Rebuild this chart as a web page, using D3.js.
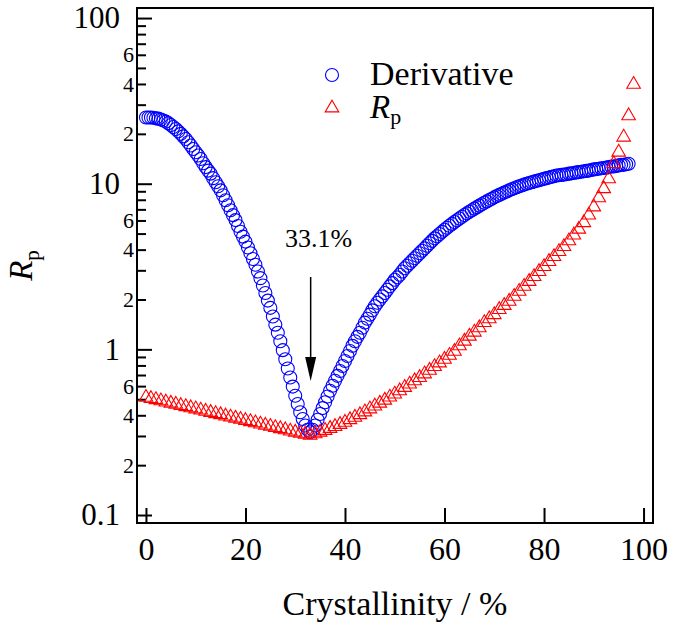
<!DOCTYPE html>
<html><head><meta charset="utf-8">
<script src="https://cdn.jsdelivr.net/npm/d3@7"></script>
<style>body{margin:0;background:#fff;} svg{display:block;} svg text{fill:#000;}</style>
</head><body>
<svg id="chart" width="675" height="626"></svg>
<script>
// ---- Data ----
const derivX = [0,0.5,1,1.5,2,2.5,3,3.5,4,4.5,5,5.5,6,6.5,7,7.5,8,8.5,9,9.5,10,10.5,11,11.5,12,12.5,13,13.5,14,14.5,15,15.5,16,16.5,17,17.5,18,18.5,19,19.5,20,20.5,21,21.5,22,22.5,23,23.5,24,24.5,25,25.5,26,26.5,27,27.5,28,28.5,29,29.5,30,30.5,31,31.5,32,32.5,33,33.5,34,34.5,35,35.5,36,36.5,37,37.5,38,38.5,39,39.5,40,40.5,41,41.5,42,42.5,43,43.5,44,44.5,45,45.5,46,46.5,47,47.5,48,48.5,49,49.5,50,50.5,51,51.5,52,52.5,53,53.5,54,54.5,55,55.5,56,56.5,57,57.5,58,58.5,59,59.5,60,60.5,61,61.5,62,62.5,63,63.5,64,64.5,65,65.5,66,66.5,67,67.5,68,68.5,69,69.5,70,70.5,71,71.5,72,72.5,73,73.5,74,74.5,75,75.5,76,76.5,77,77.5,78,78.5,79,79.5,80,80.5,81,81.5,82,82.5,83,83.5,84,84.5,85,85.5,86,86.5,87,87.5,88,88.5,89,89.5,90,90.5,91,91.5,92,92.5,93,93.5,94,94.5,95,95.5,96,96.5,97];
const derivY = [25.1,25.1,25.1,25.0,24.8,24.7,24.4,24.1,23.7,23.2,22.6,22.0,21.4,20.7,20.0,19.3,18.6,17.8,17.0,16.2,15.5,14.8,14.1,13.3,12.6,12.0,11.5,10.8,10.2,9.66,9.12,8.51,7.94,7.41,6.92,6.46,6.03,5.56,5.13,4.79,4.47,4.12,3.80,3.51,3.24,2.95,2.69,2.43,2.19,1.97,1.78,1.58,1.41,1.26,1.12,0.989,0.871,0.767,0.676,0.596,0.525,0.468,0.417,0.380,0.347,0.327,0.316,
0.327,0.347,0.376,0.407,0.442,0.479,0.519,0.562,0.603,0.646,0.692,0.741,0.794,0.851,0.912,0.977,1.05,1.12,1.19,1.26,1.35,1.45,1.53,1.62,1.72,1.82,1.91,2.00,2.09,2.19,2.29,2.40,2.51,2.63,2.72,2.82,2.95,3.09,3.20,3.31,3.43,3.55,3.67,3.80,3.94,4.07,4.22,4.37,4.52,4.68,4.82,4.97,5.12,5.27,5.42,5.57,5.72,5.87,6.02,6.17,6.32,6.47,6.62,6.77,6.92,7.07,7.22,7.37,7.52,7.67,7.82,7.97,8.12,8.27,8.42,8.56,8.70,8.84,8.98,9.12,9.25,9.38,9.51,9.64,9.76,9.88,10.0,10.1,10.2,10.3,10.4,10.5,10.6,10.7,10.8,10.9,11.0,11.1,11.2,11.25,11.3,11.35,11.4,11.5,11.55,11.6,11.7,11.75,11.8,11.9,11.95,12.0,12.1,12.2,12.25,12.3,12.4,12.45,12.5,12.6,12.7,12.7,12.8,12.9,13.0,13.0,13.1,13.2,13.3,13.3,13.4,13.5];
const rpX = [0,1,2,3,4,5,6,7,8,9,10,11,12,13,14,15,16,17,18,19,20,21,22,23,24,25,26,27,28,29,30,31,32,33,34,35,36,37,38,39,40,41,42,43,44,45,46,47,48,49,50,51,52,53,54,55,56,57,58,59,60,61,62,63,64,65,66,67,68,69,70,71,72,73,74,75,76,77,78,79,80,81,82,83,84,85,86,87,88,89,90,91,92,93,94,95,96,97,98];
const rpY = [0.513,0.505,0.497,0.489,0.481,0.473,0.466,0.458,0.451,0.444,0.437,0.430,0.423,0.416,0.409,0.403,0.396,0.390,0.384,0.378,0.372,0.366,0.360,0.354,0.348,0.343,0.337,0.332,0.327,0.321,0.316,0.311,0.307,0.303,
0.309,0.316,0.324,0.333,0.342,0.352,0.363,0.376,0.389,0.403,0.419,0.437,0.455,0.473,0.493,0.515,0.537,0.562,0.589,0.617,0.646,0.676,0.711,0.748,0.787,0.828,0.871,0.920,0.973,1.05,1.12,1.20,1.27,1.35,1.45,1.53,1.62,1.74,1.84,1.95,2.09,2.24,2.40,2.57,2.75,2.95,3.16,3.39,3.63,3.89,4.17,4.52,4.90,5.31,5.82,6.46,7.24,8.22,9.33,10.7,13.2,15.5,19.1,25.7,39.8];
const xTicks = [0,20,40,60,80,100];
const yMajorTicks = [0.1,1,10,100];
const yMinorTicks = [0.2,0.3,0.4,0.5,0.6,0.7,0.8,0.9,2,3,4,5,6,7,8,9,20,30,40,50,60,70,80,90];
const yMinorLabelled = [2,4,6];
const seriesNames = ["Derivative","R"];
const annotationText = "33.1%";
const annotationX = 33.1;

// ---- Layout ----
const FONT = '"Liberation Serif","Times New Roman","DejaVu Serif",serif';
const svg = d3.select("#chart");
const L = 137, R = 653, T = 8, B = 523;
const x = d3.scaleLinear().domain([-1.8, 101.9]).range([L, R]);
const y = d3.scaleLog().domain([0.0895, 115]).range([B, T]);

// Axes
const fmtMajor = d => d < 1 ? "0.1" : String(d);
const gy = svg.append("g").attr("transform", `translate(${L},0)`)
  .call(d3.axisLeft(y).tickValues(yMajorTicks).tickSize(-15).tickPadding(17).tickFormat(fmtMajor));
gy.attr("font-family", FONT);
gy.select(".domain").remove();
gy.selectAll("text").attr("font-size", 31);
gy.selectAll("line").attr("stroke-width", 2);

const lead = d => Math.round(d / Math.pow(10, Math.floor(Math.log10(d) + 1e-9)));
const gym = svg.append("g").attr("transform", `translate(${L},0)`)
  .call(d3.axisLeft(y).tickValues(yMinorTicks).tickSize(-9).tickPadding(3)
    .tickFormat(d => yMinorLabelled.includes(lead(d)) ? String(lead(d)) : ""));
gym.attr("font-family", FONT);
gym.select(".domain").remove();
gym.selectAll("text").attr("font-size", 22);
gym.selectAll("line").attr("stroke-width", 2);

const gx = svg.append("g").attr("transform", `translate(0,${B})`)
  .call(d3.axisBottom(x).tickValues(xTicks).tickSize(-15).tickPadding(14));
gx.attr("font-family", FONT);
gx.select(".domain").remove();
gx.selectAll("text").attr("font-size", 32);
gx.selectAll("line").attr("stroke-width", 2);

svg.append("rect").attr("x", L).attr("y", T).attr("width", R - L).attr("height", B - T)
  .attr("fill", "none").attr("stroke", "#000").attr("stroke-width", 2);

// Axis titles
svg.append("text").attr("x", (L + R) / 2).attr("y", 615).attr("text-anchor", "middle")
  .attr("font-family", FONT).attr("font-size", 34).text("Crystallinity / %");
const yt = svg.append("text").attr("transform", `translate(32,${(T + B) / 2}) rotate(-90)`)
  .attr("text-anchor", "middle").attr("font-family", FONT).attr("font-size", 33);
yt.append("tspan").attr("font-style", "italic").text("R");
yt.append("tspan").attr("font-size", 21).attr("dy", 7).text("p");

// Data
const circ = svg.append("g");
circ.selectAll("circle").data(derivX.map((d, i) => [d, derivY[i]])).join("circle")
  .attr("cx", d => x(d[0])).attr("cy", d => y(d[1])).attr("r", 6.5)
  .attr("fill", "none").attr("stroke", "#0000ff").attr("stroke-width", 1.1);

const tri = d3.symbol().type(d3.symbolTriangle).size(80);
const tg = svg.append("g");
tg.selectAll("path").data(rpX.map((d, i) => [d, rpY[i]])).join("path")
  .attr("d", tri).attr("transform", d => `translate(${x(d[0])},${y(d[1])})`)
  .attr("fill", "none").attr("stroke", "#ff0000").attr("stroke-width", 1.1);

// Legend
svg.append("circle").attr("cx", 332).attr("cy", 75).attr("r", 6.5)
  .attr("fill", "none").attr("stroke", "#0000ff").attr("stroke-width", 1.1);
svg.append("text").attr("x", 370).attr("y", 85).attr("font-family", FONT).attr("font-size", 34).text(seriesNames[0]);
svg.append("path").attr("d", tri).attr("transform", "translate(332,108)")
  .attr("fill", "none").attr("stroke", "#ff0000").attr("stroke-width", 1.1);
const lr = svg.append("text").attr("x", 370).attr("y", 118).attr("font-family", FONT).attr("font-size", 33);
lr.append("tspan").attr("font-style", "italic").text(seriesNames[1]);
lr.append("tspan").attr("font-size", 22).attr("dy", 6).text("p");

// Annotation
const ax = x(annotationX);
svg.append("text").attr("x", 285).attr("y", 247).attr("font-family", FONT).attr("font-size", 26).text(annotationText);
svg.append("line").attr("x1", ax).attr("x2", ax).attr("y1", 277).attr("y2", 360)
  .attr("stroke", "#000").attr("stroke-width", 1.5);
svg.append("path").attr("d", `M${ax - 5.5},357 L${ax + 5.5},357 L${ax},381 Z`).attr("fill", "#000");
</script>
</body></html>
